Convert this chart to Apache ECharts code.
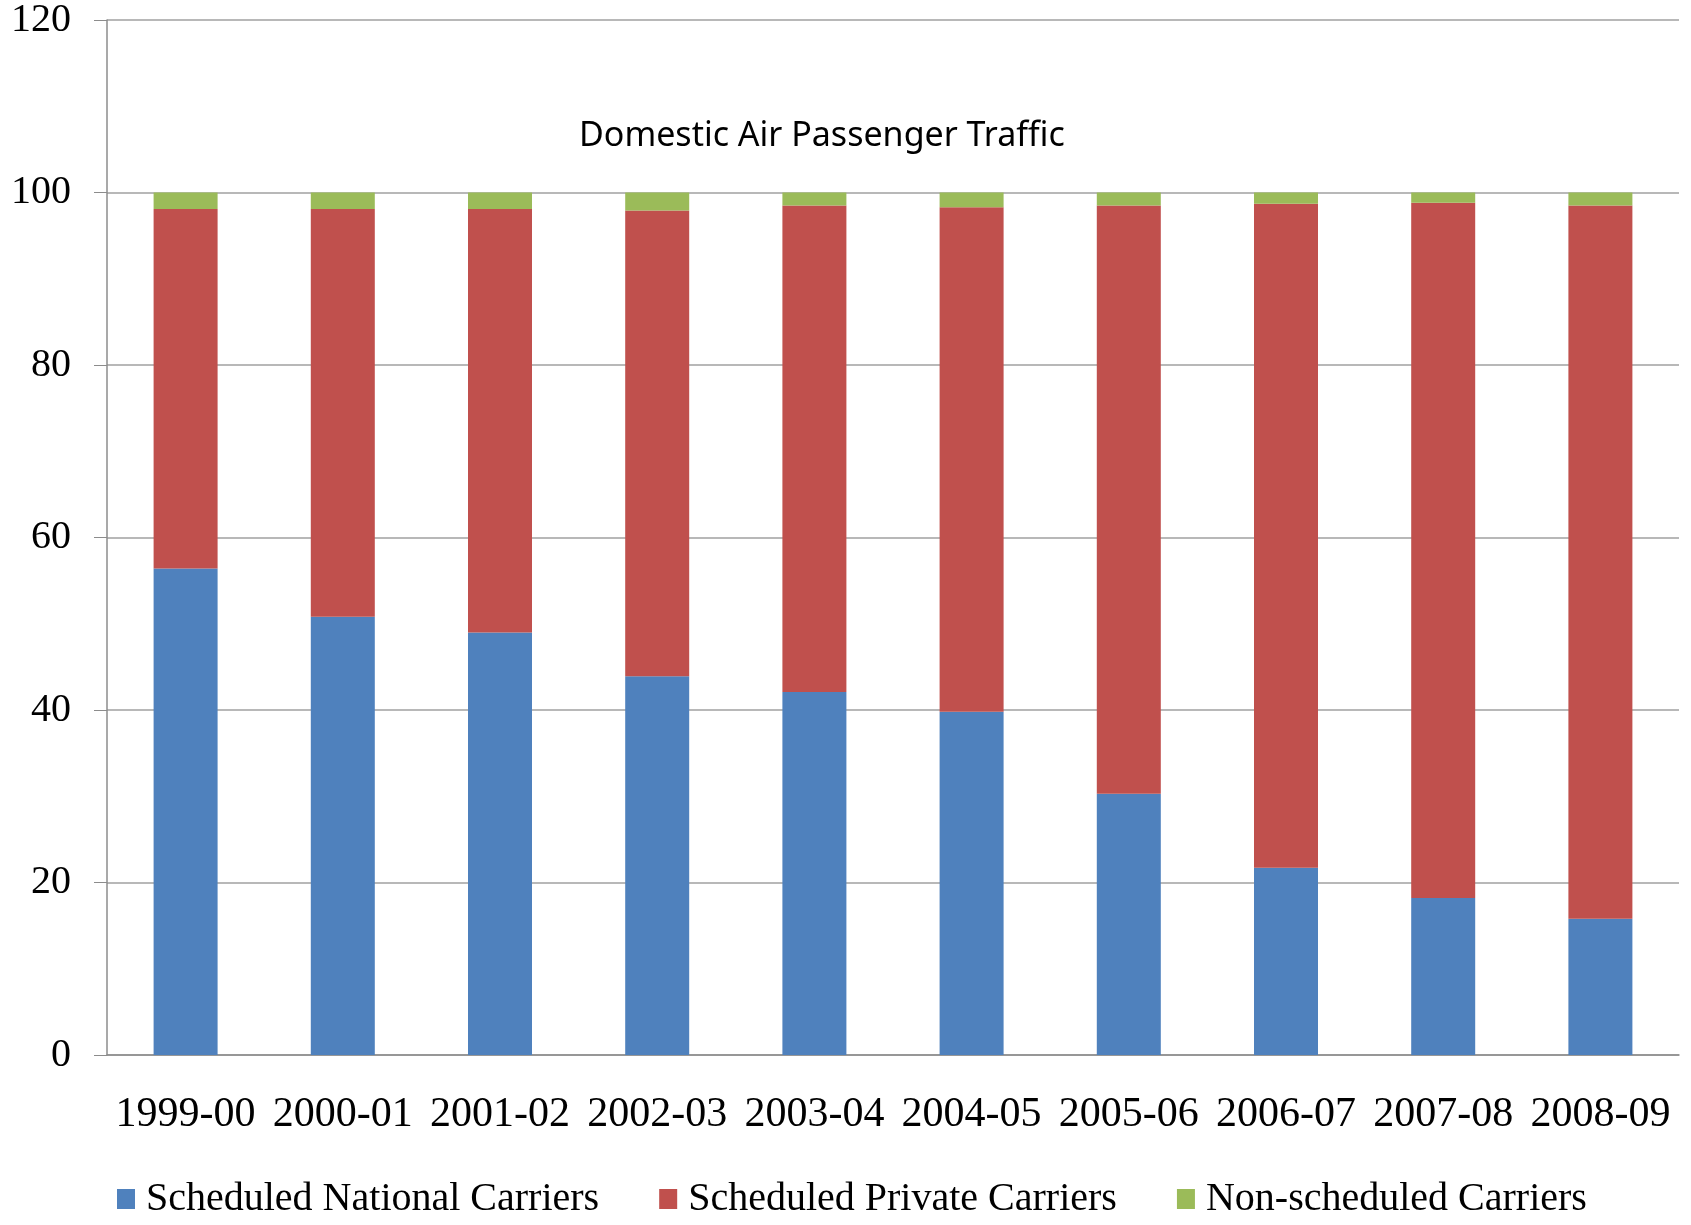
<!DOCTYPE html>
<html>
<head>
<meta charset="utf-8">
<title>Domestic Air Passenger Traffic</title>
<script src="https://cdn.jsdelivr.net/npm/echarts@6/dist/echarts.min.js"></script>
<style>
    html, body { margin: 0; padding: 0; background: #fff; }
    #chartDiv { width: 1691px; height: 1225px; }
</style>
</head>
<body>
<div id="chartDiv"></div>
<script>
var years = ['1999-00', '2000-01', '2001-02', '2002-03', '2003-04',
    '2004-05', '2005-06', '2006-07', '2007-08', '2008-09'];

// share of passengers, percent
var nationalCarriers = [56.4, 50.8, 49.0, 43.9, 42.1, 39.8, 30.3, 21.7, 18.2, 15.8];
var privateCarriers = [41.7, 47.3, 49.1, 54.0, 56.4, 58.5, 68.2, 77.0, 80.6, 82.7];
var nonScheduledCarriers = [1.9, 1.9, 1.9, 2.1, 1.5, 1.7, 1.5, 1.3, 1.2, 1.5];

var yTicks = [0, 20, 40, 60, 80, 100, 120];

var serif = '"Liberation Serif", "DejaVu Serif", serif';

function makeSeries(name, data, color) {
    return {
        name: name,
        type: 'bar',
        stack: 'total',
        barWidth: 64,
        data: data,
        itemStyle: { color: color },
        emphasis: { disabled: true }
    };
}

var myChart = echarts.init(document.getElementById('chartDiv'));

myChart.setOption({
    animation: false,
    title: {
        text: 'Domestic Air Passenger Traffic',
        left: 574,
        top: 114,
        textStyle: {
            fontFamily: '"Noto Sans", "Open Sans", sans-serif',
            fontSize: 34,
            fontWeight: 'normal',
            color: '#000'
        }
    },
    legend: {
        left: 112,
        top: 1174,
        itemWidth: 18,
        itemHeight: 20,
        itemGap: 60,
        icon: 'rect',
        textStyle: { fontFamily: serif, fontSize: 40, color: '#000', padding: [0, 0, 0, 6] },
        data: ['Scheduled National Carriers', 'Scheduled Private Carriers', 'Non-scheduled Carriers']
    },
    grid: {
        left: 107,
        right: 12,
        top: 20,
        bottom: 170
    },
    xAxis: {
        type: 'category',
        data: years,
        axisLine: { lineStyle: { color: '#8c8c8c', width: 1.5 } },
        axisTick: { interval: 0, length: 14, lineStyle: { color: '#8c8c8c' } },
        axisLabel: { interval: 0, margin: 39, fontFamily: serif, fontSize: 42, color: '#000' }
    },
    yAxis: {
        type: 'value',
        min: yTicks[0],
        max: yTicks[yTicks.length - 1],
        interval: yTicks[1] - yTicks[0],
        axisLine: { show: true, lineStyle: { color: '#8c8c8c', width: 1.5 } },
        axisTick: { show: true, inside: false, length: 13, lineStyle: { color: '#8c8c8c' } },
        splitLine: { lineStyle: { color: '#a0a0a0', width: 1.5 } },
        axisLabel: { margin: 36, fontFamily: serif, fontSize: 40, color: '#000' }
    },
    series: [
        makeSeries('Scheduled National Carriers', nationalCarriers, '#4F81BD'),
        makeSeries('Scheduled Private Carriers', privateCarriers, '#C0504D'),
        makeSeries('Non-scheduled Carriers', nonScheduledCarriers, '#9BBB59')
    ]
});
</script>
</body>
</html>
